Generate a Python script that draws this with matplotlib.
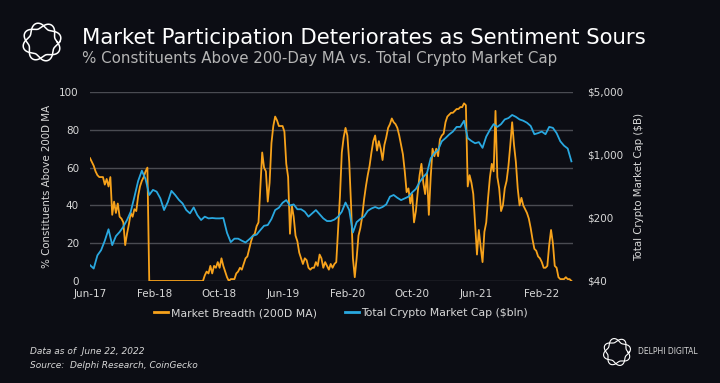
import matplotlib
matplotlib.use('Agg')
import matplotlib.pyplot as plt
import numpy as np
import pandas as pd


# weekly readings of market breadth (% of constituents above their 200-day MA)
breadth_dates = pd.date_range('2017-06-22', periods=261, freq='7D')
breadth = [
    65, 63, 61, 58, 56, 55, 55, 55, 51, 54,
    50, 55, 35, 42, 36, 41, 34, 33, 31, 19,
    25, 30, 36, 34, 38, 37, 45, 50, 53, 55,
    58, 60, 0, 0, 0, 0, 0, 0, 0, 0,
    0, 0, 0, 0, 0, 0, 0, 0, 0, 0,
    0, 0, 0, 0, 0, 0, 0, 0, 0, 0,
    0, 0, 3, 5, 4, 8, 4, 8, 7, 10,
    7, 12, 8, 5, 2, 0, 1, 1, 1, 4,
    5, 7, 6, 9, 12, 13, 17, 21, 24, 25,
    29, 31, 50, 68, 60, 58, 42, 52, 73, 82,
    87, 85, 82, 82, 82, 79, 62, 55, 25, 40,
    34, 24, 21, 15, 12, 9, 12, 11, 7, 6,
    7, 7, 10, 8, 14, 12, 7, 10, 8, 6,
    9, 7, 9, 10, 27, 45, 68, 76, 81, 77,
    63, 40, 12, 2, 12, 24, 28, 34, 43, 50,
    56, 61, 68, 74, 77, 69, 74, 70, 64, 72,
    76, 81, 83, 86, 84, 83, 81, 77, 72, 67,
    58, 47, 49, 41, 46, 31, 37, 47, 56, 62,
    52, 46, 57, 35, 55, 70, 66, 70, 66, 75,
    77, 78, 84, 87, 88, 89, 89, 90, 91, 91,
    92, 92, 94, 93, 50, 56, 52, 46, 30, 14,
    27, 18, 10, 26, 31, 44, 55, 62, 58, 90,
    55, 49, 37, 40, 49, 53, 61, 72, 84, 72,
    63, 49, 40, 44, 40, 38, 36, 33, 28, 22,
    17, 16, 13, 12, 10, 7, 7, 8, 19, 27,
    20, 8, 7, 2, 1, 1, 1, 2, 1, 1,
    0,
]

# bi-weekly total crypto market cap ($bn)
mcap_dates = pd.date_range('2017-06-22', periods=131, freq='14D')
mcap = [
    60, 55, 77, 88, 112, 150, 100, 126, 140, 160,
    190, 235, 344, 515, 670, 540, 360, 410, 392, 330,
    245, 300, 400, 360, 318, 290, 245, 225, 262, 215,
    190, 207, 198, 200, 198, 198, 200, 137, 108, 118,
    118, 112, 107, 116, 127, 131, 147, 164, 167, 195,
    245, 260, 295, 316, 275, 283, 250, 250, 235, 207,
    225, 245, 220, 198, 185, 185, 192, 207, 235, 297,
    245, 138, 180, 195, 207, 240, 255, 265, 255, 265,
    283, 345, 360, 335, 316, 330, 345, 385, 420, 500,
    570, 630, 920, 1050, 1140, 1420, 1540, 1690, 1820, 2050,
    2050, 2400, 1540, 1430, 1350, 1390, 1200, 1600, 1900, 2200,
    2050, 2200, 2480, 2570, 2780, 2650, 2480, 2400, 2280, 2100,
    1700, 1750, 1820, 1700, 2050, 2000, 1750, 1420, 1270, 1180,
    850,
]

tick_dates = ['2017-06-22', '2018-02-22', '2018-10-22', '2019-06-22',
              '2020-02-22', '2020-10-22', '2021-06-22', '2022-02-22']
tick_labels = ['Jun-17', 'Feb-18', 'Oct-18', 'Jun-19',
               'Feb-20', 'Oct-20', 'Jun-21', 'Feb-22']
left_ticks = [0, 20, 40, 60, 80, 100]
right_ticks = [40, 200, 1000, 5000]
right_labels = ['\\$40', '\\$200', '\\$1,000', '\\$5,000']

BG = '#0c0d14'
ORANGE = '#f7a21b'
BLUE = '#29a8e0'
TXT = '#d8d8d8'
W, H = 720, 383

plt.rcParams['font.family'] = ['DejaVu Sans']

fig = plt.figure(figsize=(W / 100, H / 100), dpi=100, facecolor=BG)


def fx(px):
    return px / W


def fy(py):
    return 1 - py / H


ax = fig.add_axes([fx(90), fy(281), fx(573) - fx(90), fy(92) - fy(281)])
ax.set_facecolor(BG)
ax.plot(breadth_dates, breadth, color=ORANGE, lw=1.3, zorder=2)
ax.set_ylim(0, 100)
ax.set_yticks(left_ticks)
ax.set_xlim(pd.Timestamp('2017-06-22'), pd.Timestamp('2022-06-22'))
ax.set_xticks(pd.to_datetime(tick_dates))
ax.set_xticklabels(tick_labels)
ax.grid(axis='y', color='#4a4b52', lw=1.0)
ax.set_axisbelow(True)
for s in ax.spines.values():
    s.set_visible(False)
ax.tick_params(length=0, colors=TXT, labelsize=7.5)
ax.tick_params(axis='y', pad=8)
ax.tick_params(axis='x', pad=6)
ax.set_ylabel('% Constituents Above 200D MA', color=TXT, fontsize=7.4, labelpad=5)

ax2 = ax.twinx()
ax2.plot(mcap_dates, mcap, color=BLUE, lw=1.3, zorder=3)
ax2.set_yscale('log')
ax2.set_ylim(40, 5000)
ax2.set_yticks(right_ticks)
ax2.set_yticklabels(right_labels)
ax2.minorticks_off()
for s in ax2.spines.values():
    s.set_visible(False)
ax2.tick_params(length=0, colors=TXT, labelsize=7.5, pad=10)
ax2.set_ylabel('Total Crypto Market Cap (\\$B)', color=TXT, fontsize=7.4, labelpad=8)

# legend
handles = [plt.Line2D([], [], color=ORANGE, lw=2), plt.Line2D([], [], color=BLUE, lw=2)]
fig.legend(handles, ['Market Breadth (200D MA)', 'Total Crypto Market Cap (\\$bln)'],
           loc='center', bbox_to_anchor=(fx(341), fy(313)), ncol=2, frameon=False,
           fontsize=7.8, labelcolor=TXT, handlelength=1.3, handletextpad=0.2,
           columnspacing=2.6)

# titles
fig.text(fx(82), fy(38), 'Market Participation Deteriorates as Sentiment Sours',
         color='white', fontsize=15.3, va='center', ha='left')
fig.text(fx(82), fy(59), '% Constituents Above 200-Day MA vs. Total Crypto Market Cap',
         color='#b5b5b5', fontsize=10.8, va='center', ha='left')

# footer
fig.text(fx(30), fy(352), 'Data as of  June 22, 2022', color=TXT, fontsize=6.5,
         style='italic', va='center')
fig.text(fx(30), fy(365), 'Source:  Delphi Research, CoinGecko', color=TXT, fontsize=6.5,
         style='italic', va='center')
fig.text(fx(638), fy(352), 'DELPHI DIGITAL', color=TXT, fontsize=5.5, va='center')


# braided ring logo: two wavy strands around a circle
def draw_logo(cx, cy, size, lw):
    lax = fig.add_axes([fx(cx - size / 2), fy(cy + size / 2), fx(size), size / H])
    lax.set_xlim(-1.05, 1.05)
    lax.set_ylim(-1.05, 1.05)
    lax.axis('off')
    th = np.linspace(0, 2 * np.pi, 400)
    for sgn in (1, -1):
        r = 0.82 + sgn * 0.15 * np.sin(4 * th + np.pi / 8)
        lax.plot(r * np.cos(th), r * np.sin(th), color='white', lw=lw)


draw_logo(42, 42, 42, 1.1)
draw_logo(617, 352, 30, 0.8)

fig.savefig('out.png', dpi=100, facecolor=BG)
